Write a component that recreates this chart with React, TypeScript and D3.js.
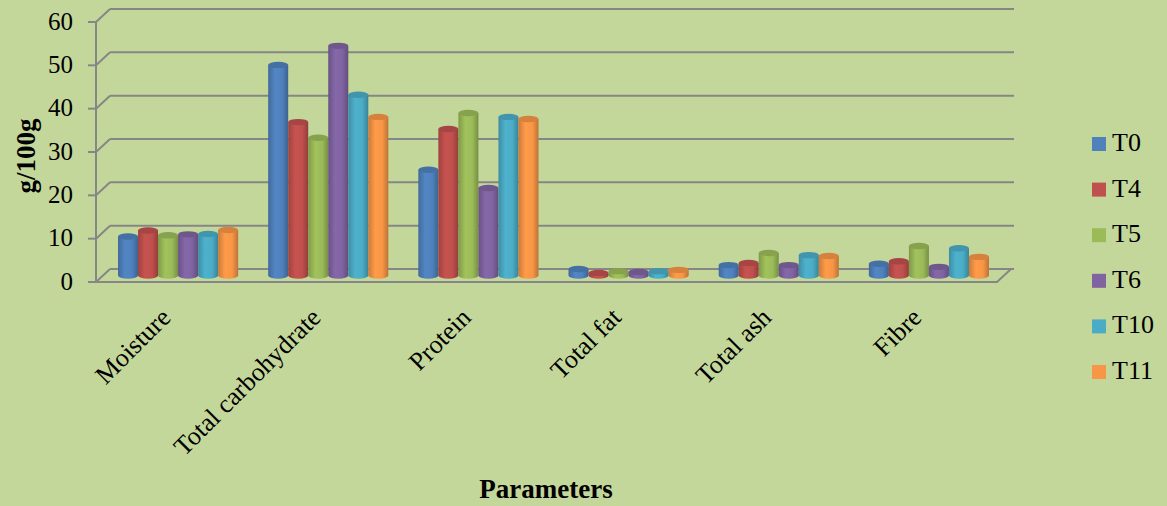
import React from "react";
import * as d3 from "d3";

// values (g/100g)
const categories = ["Moisture", "Total carbohydrate", "Protein", "Total fat", "Total ash", "Fibre"];
const seriesNames = ["T0", "T4", "T5", "T6", "T10", "T11"];
const T0 = [9.0, 48.6, 24.4, 1.5, 2.4, 2.7];
const T4 = [10.4, 35.4, 33.8, 0.6, 2.9, 3.3];
const T5 = [9.3, 31.8, 37.5, 1.0, 5.2, 6.8];
const T6 = [9.5, 53.0, 20.2, 0.8, 2.4, 2.0];
const T10 = [9.6, 41.7, 36.6, 1.0, 4.7, 6.3];
const T11 = [10.5, 36.6, 36.1, 1.3, 4.5, 4.3];
const yTicks = [0, 10, 20, 30, 40, 50, 60];

const seriesValues = [T0, T4, T5, T6, T10, T11];
const colors = ["#4F81BD", "#C0504D", "#9BBB59", "#8064A2", "#4BACC6", "#F79646"];

const W = 1167;
const H = 506;
const font = "'Liberation Serif', 'Times New Roman', serif";
const gridColor = "#868686";

// front plane of the 3D box, and depth offset to the back wall
const left = 96, right = 997, bottom = 282, top = 22;
const depthX = 14, depthY = -13;

export default function App() {
  const y = d3.scaleLinear().domain([0, 60]).range([bottom, top]);
  const x0 = d3.scaleBand().domain(categories).range([left, right]);
  const x1 = d3.scaleBand().domain(seriesNames).range([15, x0.bandwidth() - 15]);

  const midX = depthX / 2, midY = depthY / 2;
  const ry = 3.2;

  return (
    <svg width={W} height={H} style={{ position: "absolute", left: 0, top: 0 }}>
      <defs>
        {colors.map((c, i) => {
          const col = d3.color(c)!;
          return (
            <linearGradient key={i} id={`cyl-${i}`} x1="0" x2="1" y1="0" y2="0">
              <stop offset="0" stopColor={col.darker(0.55).formatHex()} />
              <stop offset="0.35" stopColor={col.brighter(0.1).formatHex()} />
              <stop offset="0.7" stopColor={c} />
              <stop offset="1" stopColor={col.darker(0.75).formatHex()} />
            </linearGradient>
          );
        })}
      </defs>
      <rect width={W} height={H} fill="#C4D79B" />

      {/* side wall diagonals + back wall gridlines */}
      {yTicks.map(t => (
        <g key={t} stroke={gridColor} strokeWidth={2} fill="none">
          <line x1={left} y1={y(t)} x2={left + depthX} y2={y(t) + depthY} />
          <line x1={left + depthX} y1={y(t) + depthY} x2={right + depthX + 3} y2={y(t) + depthY} />
          <line x1={left - 8} y1={y(t)} x2={left} y2={y(t)} />
        </g>
      ))}
      <line x1={left} y1={y(60)} x2={left} y2={bottom} stroke={gridColor} strokeWidth={2} />
      {/* floor */}
      <polyline
        points={`${left},${bottom} ${right},${bottom} ${right + depthX},${bottom + depthY}`}
        fill="none" stroke={gridColor} strokeWidth={2}
      />

      {/* y tick labels */}
      {yTicks.map(t => (
        <text key={t} x={73} y={y(t) + 2} textAnchor="end" dominantBaseline="middle"
          fontFamily={font} fontSize={25} fill="#000">{t}</text>
      ))}

      {/* cylinders */}
      {categories.map((cat, ci) => (
        <g key={cat}>
          {seriesNames.map((s, si) => {
            const v = seriesValues[si][ci];
            const bx = x0(cat)! + x1(s)! + midX;
            const w = x1.bandwidth();
            const yb = y(0) + midY;
            const yt = y(v) + midY;
            const cx = bx + w / 2;
            const col = d3.color(colors[si])!;
            return (
              <g key={s}>
                <ellipse cx={cx} cy={yb} rx={w / 2} ry={ry} fill={`url(#cyl-${si})`} />
                <rect x={bx} y={yt} width={w} height={Math.max(0, yb - yt)} fill={`url(#cyl-${si})`} />
                <ellipse cx={cx} cy={yt} rx={w / 2} ry={ry} fill={col.darker(0.4).formatHex()} />
              </g>
            );
          })}
        </g>
      ))}

      {/* category labels */}
      {categories.map(cat => {
        const cx = x0(cat)! + x0.bandwidth() / 2 + midX;
        return (
          <text key={cat} transform={`translate(${cx - 6},${319}) rotate(-45)`} textAnchor="end"
            fontFamily={font} fontSize={26} fill="#000">{cat}</text>
        );
      })}

      {/* axis titles */}
      <text transform={`translate(35,156) rotate(-90)`} textAnchor="middle" fontFamily={font}
        fontWeight="bold" fontSize={27} fill="#000">g/100g</text>
      <text x={546} y={498} textAnchor="middle" fontFamily={font} fontWeight="bold" fontSize={27}
        fill="#000">Parameters</text>

      {/* legend */}
      {seriesNames.map((s, i) => {
        const ly = 144 + i * 45.6;
        return (
          <g key={s}>
            <rect x={1092} y={ly - 7} width={14} height={14} fill={colors[i]} />
            <text x={1112} y={ly + 1} dominantBaseline="middle" fontFamily={font} fontSize={26}
              fill="#000">{s}</text>
          </g>
        );
      })}
    </svg>
  );
}
